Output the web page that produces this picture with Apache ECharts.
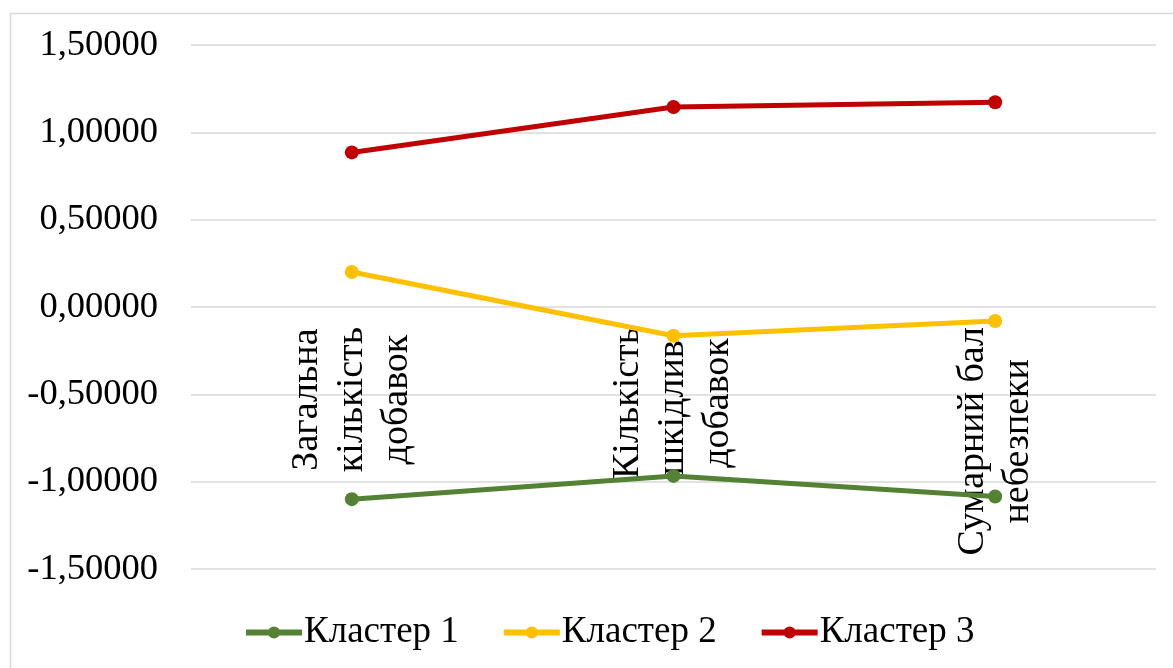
<!DOCTYPE html>
<html>
<head>
<meta charset="utf-8">
<script src="https://cdn.jsdelivr.net/npm/echarts@6/dist/echarts.min.js"></script>
<style>
html,body{margin:0;padding:0;background:#fff;}
#chart{width:1173px;height:668px;}
</style>
</head>
<body>
<div id="chart"></div>
<script>
const categories = ['Загальна\nкількість\nдобавок', 'Кількість\nшкідлив.\nдобавок', 'Сумарний бал\nнебезпеки'];
const cluster1 = [-1.10, -0.967, -1.085];
const cluster2 = [0.20, -0.165, -0.08];
const cluster3 = [0.885, 1.145, 1.172];
const seriesNames = ['Кластер 1', 'Кластер 2', 'Кластер 3'];
const colors = ['#548235', '#FFC000', '#C00000'];

const font = 'Liberation Serif, "Times New Roman", serif';
const chart = echarts.init(document.getElementById('chart'), null, {renderer: 'canvas'});

function mk(name, data, color) {
  return {
    name: name, type: 'line', data: data,
    symbol: 'circle', symbolSize: 14,
    itemStyle: {color: color},
    lineStyle: {color: color, width: 5},
    z: 3
  };
}

const gridTop = 45, gridHeight = 524, yMin = -1.5, yMax = 1.5;
// place the category axis where the value axis crosses zero
const zeroOffset = -gridHeight * (0 - yMin) / (yMax - yMin);

chart.setOption({
  animation: false,
  textStyle: {fontFamily: font},
  graphic: [{
    type: 'rect', left: 8, top: 11, shape: {width: 1180, height: 680},
    style: {fill: 'none', stroke: '#D9D9D9', lineWidth: 1.5}, silent: true, z: -1
  }],
  grid: {left: 191, right: 17, top: gridTop, height: gridHeight, containLabel: false, outerBoundsMode: 'none'},
  xAxis: {
    type: 'category', data: categories, boundaryGap: true,
    position: 'bottom', offset: zeroOffset,
    axisLine: {show: false, onZero: false},
    axisTick: {show: false},
    axisLabel: {
      rotate: 90, margin: 20, color: '#000', fontSize: 38, fontFamily: font,
      lineHeight: 45,
      formatter: function (v) {
        return v.split('\n').map(function (s) { return '{c|' + s + '}'; }).join('\n');
      },
      rich: {c: {align: 'center', fontSize: 38, lineHeight: 45, fontFamily: font, color: '#000'}}
    },
    z: 2
  },
  yAxis: {
    type: 'value', min: yMin, max: yMax, interval: 0.5,
    axisLine: {show: false}, axisTick: {show: false},
    splitLine: {lineStyle: {color: '#D9D9D9', width: 1.5}},
    axisLabel: {
      margin: 33, color: '#000', fontSize: 36.5, fontFamily: font,
      formatter: function (v) { return v.toFixed(5).replace('.', ','); }
    }
  },
  legend: {
    data: seriesNames, bottom: 12, left: 238,
    itemWidth: 56, itemHeight: 15, itemGap: 42,
    lineStyle: {width: 6},
    textStyle: {fontSize: 37, fontFamily: font, color: '#000', padding: [0, 0, 0, -3]}
  },
  series: [
    mk(seriesNames[0], cluster1, colors[0]),
    mk(seriesNames[1], cluster2, colors[1]),
    mk(seriesNames[2], cluster3, colors[2])
  ]
});
</script>
</body>
</html>
